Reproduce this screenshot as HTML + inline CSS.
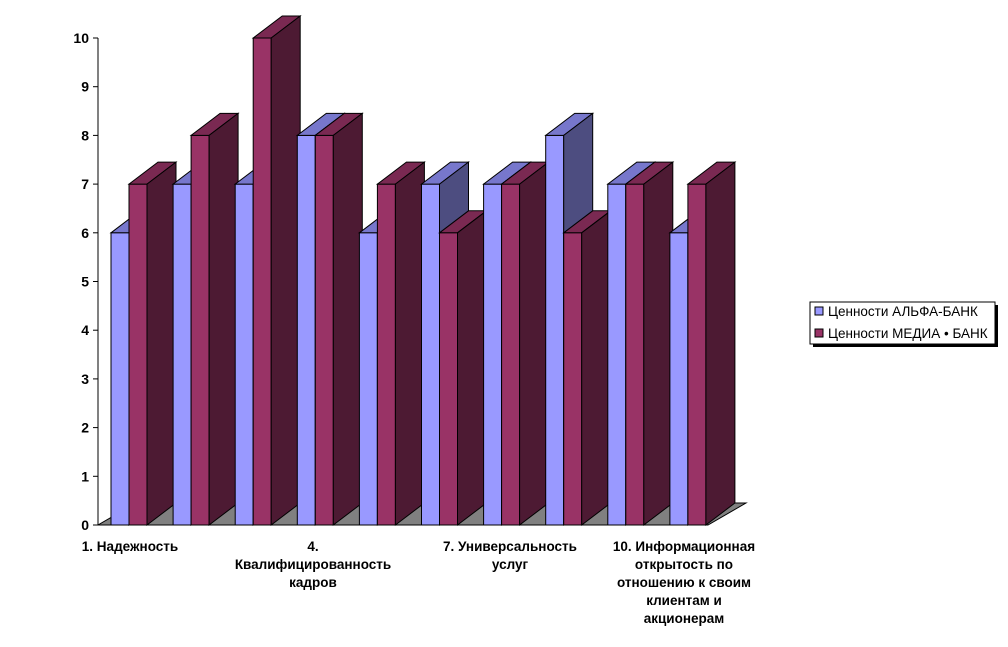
<!DOCTYPE html>
<html><head><meta charset="utf-8"><style>
body{margin:0;background:#fff;}
svg{display:block;font-family:"Liberation Sans",sans-serif;}
</style></head><body>
<svg width="1008" height="647" viewBox="0 0 1008 647">
<polygon points="98,525 708,525 746,503 136,503" fill="#808080" stroke="#000" stroke-width="1"/>
<line x1="98" y1="38" x2="98" y2="525" stroke="#000"/>
<line x1="98" y1="525" x2="708" y2="525" stroke="#000"/>
<g id="bars"></g>
<g font-size="14" font-weight="bold" text-anchor="end" id="ticks"></g>
<g font-size="13.5" font-weight="bold" text-anchor="middle">
<text x="130" y="551">1.  Надежность</text>
<text x="313" y="551">4.</text>
<text x="313" y="569">Квалифицированность</text>
<text x="313" y="587">кадров</text>
<text x="510" y="551">7.  Универсальность</text>
<text x="510" y="569">услуг</text>
<text x="684" y="551">10.  Информационная</text>
<text x="684" y="569">открытость по</text>
<text x="684" y="587">отношению к своим</text>
<text x="684" y="605">клиентам и</text>
<text x="684" y="623">акционерам</text>
</g>
<rect x="813" y="305" width="185" height="42" fill="#000"/>
<rect x="810" y="302" width="185" height="42" fill="#fff" stroke="#000"/>
<rect x="815" y="307" width="8" height="8" fill="#9999FF" stroke="#000"/>
<rect x="815" y="329" width="8" height="8" fill="#993366" stroke="#000"/>
<g font-size="13.5"><text x="828" y="316">Ценности АЛЬФА-БАНК</text><text x="828" y="338">Ценности МЕДИА • БАНК</text></g>
</svg>
<script>
var ns="http://www.w3.org/2000/svg";
var g=document.getElementById("bars"),t=document.getElementById("ticks");
var A=[6,7,7,8,6,7,7,8,7,6],M=[7,8,10,8,7,6,7,6,7,7];
var y0=525,u=48.7,dx=29,dy=-22,w=18;
function poly(p,f){var e=document.createElementNS(ns,"polygon");e.setAttribute("points",p.map(q=>q.join(",")).join(" "));e.setAttribute("fill",f);e.setAttribute("stroke","#000");e.setAttribute("stroke-width","1");g.appendChild(e);}
function bar(x,v,c){var yt=y0-v*u;
poly([[x,y0],[x+w,y0],[x+w,yt],[x,yt]],c[0]);
poly([[x,yt],[x+w,yt],[x+w+dx,yt+dy],[x+dx,yt+dy]],c[1]);
poly([[x+w,y0],[x+w+dx,y0+dy],[x+w+dx,yt+dy],[x+w,yt]],c[2]);}
var B=["#9999FF","#7777CC","#4D4D80"],R=["#993366","#7A2952","#4D1A33"];
for(var i=0;i<10;i++){var x=111+i*62.1;bar(x,A[i],B);bar(x+w,M[i],R);}
for(var k=0;k<=10;k++){var y=y0-k*u;var l=document.createElementNS(ns,"line");l.setAttribute("x1",93);l.setAttribute("x2",98);l.setAttribute("y1",y);l.setAttribute("y2",y);l.setAttribute("stroke","#000");t.appendChild(l);
var tx=document.createElementNS(ns,"text");tx.setAttribute("x",89);tx.setAttribute("y",y+5);tx.textContent=k;t.appendChild(tx);}
</script>
</body></html>
